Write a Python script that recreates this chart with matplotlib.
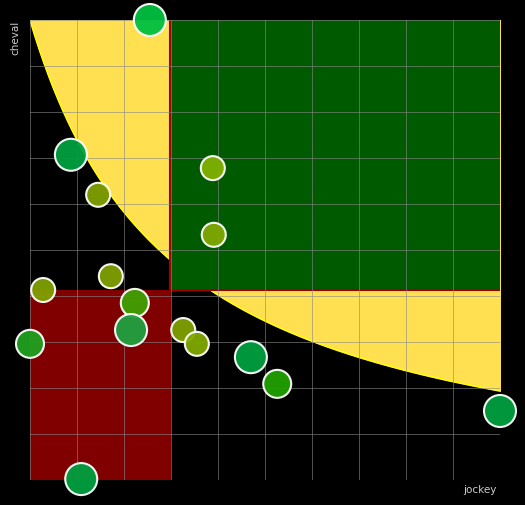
import numpy as np
import matplotlib
matplotlib.use("Agg")
import matplotlib.pyplot as plt
from matplotlib.patches import Rectangle

jockey = [2.55, 0.87, 1.45, 3.89, 3.91, 1.72, 0.28, 2.23, 2.15, 3.26, 3.55, 0.0, 4.70, 5.26, 10.0, 1.09]
cheval = [10.0, 7.07, 6.2, 6.78, 5.33, 4.43, 4.13, 3.85, 3.26, 3.26, 2.96, 2.96, 2.67, 2.09, 1.5, 0.02]
sizes  = [16, 16, 12, 12, 12, 12, 12, 14, 16, 12, 12, 14, 16, 14, 16, 16]
colors = ['#00c040', '#00a040', '#80a000', '#80b000', '#80a800', '#80a000', '#80a000', '#40a000',
          '#20a040', '#80a000', '#80a800', '#20a020', '#00a040', '#20a000', '#00a040', '#00a040']

fig = plt.figure(figsize=(5.25, 5.05), dpi=100)
fig.patch.set_facecolor('black')
ax = fig.add_axes([30/525, 25/505, 470/525, 460/505])
ax.set_facecolor('black')
ax.set_xlim(0, 10)
ax.set_ylim(0, 10)

xs = np.linspace(0, 10, 400)
curve = 31.8 / (xs + 3.03) - 0.5
ax.fill_between(xs, curve, 10, color='#ffe050', zorder=1)
ax.plot(xs, curve, color='#ffff00', lw=1, zorder=1)
ax.add_patch(Rectangle((0, 0), 2.98, 4.13, facecolor='#800000', edgecolor='none', zorder=2))
ax.add_patch(Rectangle((2.98, 4.13), 7.02, 5.87, facecolor='#005a00', edgecolor='none', zorder=2))
ax.plot([2.98, 2.98], [0, 10], color='#a00000', lw=1.5, zorder=3)
ax.plot([2.98, 10], [4.13, 4.13], color='#a00000', lw=1.5, zorder=3)
ax.plot([2.98, 2.98], [0, 4.13], color='#800000', lw=1.5, zorder=3)

for v in range(0, 11):
    ax.axvline(v, color='#888888', lw=0.7, alpha=0.6, zorder=4)
    ax.axhline(v, color='#888888', lw=0.7, alpha=0.6, zorder=4)

ax.scatter(jockey, cheval, s=[(2*r*0.72)**2 for r in sizes], c=colors, edgecolors='white',
           linewidths=1.5, alpha=0.95, zorder=5, clip_on=False)

for s in ax.spines.values():
    s.set_visible(False)
ax.set_xticks([]); ax.set_yticks([])
fig.text(480/525, 1 - 490/505, 'jockey', color='#cccccc', fontsize=7.5, ha='center', va='center')
fig.text(15/525, 1 - 38/505, 'cheval', color='#cccccc', fontsize=7.5, ha='center', va='center', rotation=90)
fig.savefig('out.png', dpi=100, facecolor='black')
